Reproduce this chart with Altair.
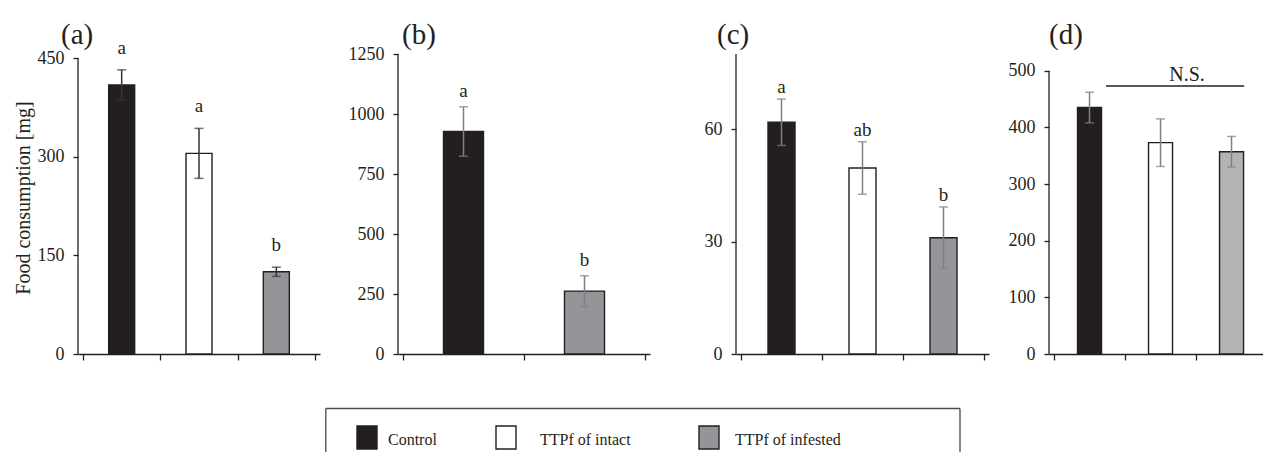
import altair as alt
import pandas as pd

SERIF = "Liberation Serif"
INK = "#231f20"

# ---------------- data ----------------
cats = ["Control", "TTPf of intact", "TTPf of infested"]

a_mean = [409, 305, 125]
a_se = [23, 38, 7]
a_letters = ["a", "a", "b"]
a_ticks = [0, 150, 300, 450]

b_cats = ["Control", "TTPf of infested"]
b_mean = [927, 262]
b_se = [103, 64]
b_letters = ["a", "b"]
b_ticks = [0, 250, 500, 750, 1000, 1250]

c_mean = [61.8, 49.6, 31.0]
c_se = [6.2, 7.0, 8.2]
c_letters = ["a", "ab", "b"]
c_ticks = [0, 30, 60]

d_mean = [435, 373, 357]
d_se = [27, 42, 27]
d_ticks = [0, 100, 200, 300, 400, 500]

ns_span = [0.733, 2.679]
ns_level = 473
ns_text_pos = 1.874

palette_abc = [INK, "#ffffff", "#939598"]
palette_d = [INK, "#ffffff", "#b3b4b6"]

PLOT_H = 300


def panel(label, label_dx, cats_p, means, ses, letters, colors, err_color,
          width, xmax, ymax, axis_top, yticks, bar_size, letter_dy,
          ytitle=None, extra=None):
    n = len(cats_p)
    df = pd.DataFrame({
        "cat": cats_p,
        "pos": [i + 0.5 for i in range(n)],
        "mean": means,
        "lo": [m - s for m, s in zip(means, ses)],
        "hi": [m + s for m, s in zip(means, ses)],
        "letter": letters if letters else [""] * n,
    })
    xscale = alt.Scale(domain=[0, xmax], nice=False, zero=False)
    xaxis = alt.Axis(values=list(range(0, int(xmax) + 1)), labels=False,
                     grid=False, domain=True, ticks=True, tickSize=6, title=None)
    yscale = alt.Scale(domain=[0, ymax], nice=False)
    ykw = dict(values=yticks, domain=False, grid=False, tickSize=5,
               labelPadding=9, format="d", labelFont=SERIF, labelFontSize=18,
               labelColor=INK)
    if ytitle:
        ykw.update(title=ytitle, titleX=-55, titleY=143.5, titleAngle=270,
                   titleBaseline="middle", titleAlign="center", titleFont=SERIF,
                   titleFontSize=20, titleFontWeight="normal", titleColor=INK)
    else:
        ykw.update(title=None)
    yaxis = alt.Axis(**ykw)

    def X(f):
        return alt.X(f, scale=xscale, axis=xaxis)

    def Y(f):
        return alt.Y(f, scale=yscale, axis=yaxis)

    color = alt.Color("cat:N", scale=alt.Scale(domain=cats_p, range=colors),
                      legend=None)
    base = alt.Chart(df)
    bars = base.mark_bar(size=bar_size, stroke=INK, strokeWidth=1.4,
                         orient="vertical").encode(x=X("pos:Q"), y=Y("mean:Q"),
                                                   color=color)
    err = base.mark_rule(color=err_color, strokeWidth=1.5).encode(
        x=X("pos:Q"), y=Y("lo:Q"), y2="hi:Q")
    cap_lo = base.mark_tick(color=err_color, orient="horizontal", size=9,
                            thickness=1.5).encode(x=X("pos:Q"), y=Y("lo:Q"))
    cap_hi = base.mark_tick(color=err_color, orient="horizontal", size=9,
                            thickness=1.5).encode(x=X("pos:Q"), y=Y("hi:Q"))
    yline_df = pd.DataFrame({"zero": [0], "top": [axis_top]})
    yline = alt.Chart(yline_df).mark_rule(color=INK, strokeWidth=1.3).encode(
        x=alt.value(0), y=Y("zero:Q"), y2="top:Q")
    plabel = alt.Chart(pd.DataFrame({"t": [label]})).mark_text(
        font=SERIF, fontSize=29, align="left", baseline="alphabetic",
        color=INK).encode(x=alt.value(label_dx), y=alt.value(-10), text="t:N")
    layers = [bars, err, cap_lo, cap_hi, yline, plabel]
    if letters:
        lt = base.mark_text(font=SERIF, fontSize=19, color=INK,
                            baseline="alphabetic", dy=letter_dy).encode(
            x=X("pos:Q"), y=Y("hi:Q"), text="letter:N")
        layers.append(lt)
    if extra:
        layers.extend(extra(X, Y, color))
    return alt.layer(*layers).properties(width=width, height=PLOT_H)


def legend_layers(X, Y, color):
    out = []
    # invisible anchor that fixes the top-left corner of the page
    out.append(alt.Chart(pd.DataFrame({"t": [0]})).mark_rect(opacity=0).encode(
        x=alt.value(-78), x2=alt.value(-77), y=alt.value(-54), y2=alt.value(-53)))
    box = "#4b4b4b"
    dummy = pd.DataFrame({"t": [0]})
    out.append(alt.Chart(dummy).mark_rule(color=box, strokeWidth=1.3).encode(
        x=alt.value(247.8), x2=alt.value(882), y=alt.value(354.5)))
    out.append(alt.Chart(dummy).mark_rule(color=box, strokeWidth=1.3).encode(
        x=alt.value(247.8), y=alt.value(354.5), y2=alt.value(398)))
    out.append(alt.Chart(dummy).mark_rule(color=box, strokeWidth=1.3).encode(
        x=alt.value(882), y=alt.value(354.5), y2=alt.value(398)))
    sq_left = [279, 418, 621]
    txt_left = [310, 462, 657]
    for k, c in enumerate(cats):
        d = pd.DataFrame({"cat": [c]})
        out.append(alt.Chart(d).mark_rect(stroke=INK, strokeWidth=1.4).encode(
            x=alt.value(sq_left[k]), x2=alt.value(sq_left[k] + 20),
            y=alt.value(372), y2=alt.value(395), color=color))
        out.append(alt.Chart(d).mark_text(font=SERIF, fontSize=16, color=INK,
                                          align="left", baseline="alphabetic").encode(
            x=alt.value(txt_left[k]), y=alt.value(391), text="cat:N"))
    return out


def ns_layers(X, Y, color):
    ns_df = pd.DataFrame({"x1": [ns_span[0]], "x2": [ns_span[1]],
                          "y": [ns_level], "tx": [ns_text_pos], "t": ["N.S."]})
    line = alt.Chart(ns_df).mark_rule(color=INK, strokeWidth=1.3).encode(
        x=X("x1:Q"), x2="x2:Q", y=Y("y:Q"))
    txt = alt.Chart(ns_df).mark_text(font=SERIF, fontSize=20, color=INK,
                                     baseline="alphabetic", dy=-5).encode(
        x=X("tx:Q"), y=Y("y:Q"), text="t:N")
    return [line, txt]


def spacer(w):
    return alt.Chart(pd.DataFrame({"v": [0]})).mark_point(opacity=0).encode(
        x=alt.value(0), y=alt.value(0)).properties(width=w, height=PLOT_H)


A = panel("(a)", -17, cats, a_mean, a_se, a_letters, palette_abc, "#333333",
          242, 3, 450 * 300 / 296, 450, a_ticks, 26, -16,
          ytitle="Food consumption [mg]", extra=legend_layers)
B = panel("(b)", 4, b_cats, b_mean, b_se, b_letters,
          [palette_abc[0], palette_abc[2]], "#808080",
          252, 2, 1250, 1250, b_ticks, 40, -10)
C = panel("(c)", -19, cats, c_mean, c_se, c_letters, palette_abc, "#808080",
          253, 3, 80, 80, c_ticks, 27, -6)
D = panel("(d)", 0, cats, d_mean, d_se, None, palette_d, "#808080",
          214, 214 / 74.5, 500 * 300 / 283.3, 500, d_ticks, 24, 0,
          extra=ns_layers)

chart = alt.hconcat(A, spacer(78), B, spacer(86), C, spacer(60), D,
                    spacing=0, bounds="flush", padding=0,
                    background="white").resolve_scale(
    color="independent"
).configure_view(stroke=None).configure_axis(
    labelFont=SERIF, labelFontSize=18, labelColor=INK, tickColor=INK,
    tickWidth=1.3, domainColor=INK, domainWidth=1.3
)

chart.save("out.html", embed_options={"renderer": "svg", "actions": False})
